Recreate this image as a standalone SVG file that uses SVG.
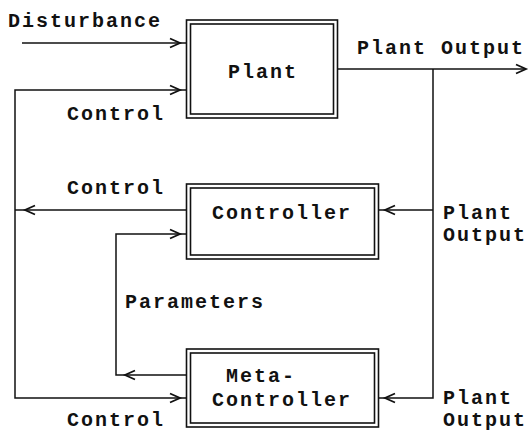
<svg xmlns="http://www.w3.org/2000/svg" xmlns:xlink="http://www.w3.org/1999/xlink" width="530" height="432" viewBox="0 0 530 432">
<defs>
<style>
text{font-family:"Liberation Mono","DejaVu Sans Mono",monospace;font-size:20px;font-weight:bold;letter-spacing:2px;fill:#111}
.ln{fill:none;stroke:#111;stroke-width:1.5}
.box{fill:#fff;stroke:#111;stroke-width:1.6}
.ah{fill:none;stroke:#111;stroke-width:1.8;stroke-linejoin:miter}
</style>
<path id="ar" class="ah" d="M-10,-4.5 L0,0 L-10,4.5"/>
<path id="al" class="ah" d="M10,-4.5 L0,0 L10,4.5"/>
</defs>
<rect width="530" height="432" fill="#fff"/>
<g id="connectors">
<path class="ln" d="M22,43 H186"/>
<use xlink:href="#ar" x="180" y="43"/>
<path class="ln" d="M186,90 H15 V398 H186"/>
<use xlink:href="#ar" x="180" y="90"/>
<use xlink:href="#ar" x="180" y="398"/>
<path class="ln" d="M338,69 H525"/>
<use xlink:href="#ar" x="526" y="69"/>
<path class="ln" d="M433,69 V398 H378"/>
<use xlink:href="#al" x="385" y="398"/>
<path class="ln" d="M433,210 H378"/>
<use xlink:href="#al" x="385" y="210"/>
<path class="ln" d="M186,210 H15"/>
<use xlink:href="#al" x="25" y="210"/>
<path class="ln" d="M186,234 H116 V375 H186"/>
<use xlink:href="#ar" x="180" y="234"/>
<use xlink:href="#al" x="125" y="375"/>
</g>
<g id="labels">
<text x="8" y="27">Disturbance</text>
<text x="67" y="120">Control</text>
<text x="357" y="54">Plant Output</text>
<text x="67" y="194">Control</text>
<text x="443" y="219">Plant</text>
<text x="443" y="241">Output</text>
<text x="125" y="308">Parameters</text>
<text x="67" y="426">Control</text>
<text x="443" y="404">Plant</text>
<text x="443" y="426">Output</text>
</g>
<g id="plant">
<rect class="box" x="186.5" y="20" width="151" height="98"/>
<rect class="box" x="190.5" y="24" width="143" height="90"/>
<text x="228" y="78">Plant</text>
</g>
<g id="controller">
<rect class="box" x="186.5" y="184" width="192" height="75"/>
<rect class="box" x="190.5" y="188" width="184" height="67"/>
<text x="212" y="219">Controller</text>
</g>
<g id="meta-controller">
<rect class="box" x="186.5" y="349" width="192" height="78"/>
<rect class="box" x="190.5" y="353" width="184" height="70"/>
<text x="226" y="382">Meta-</text>
<text x="212" y="406">Controller</text>
</g>
</svg>
